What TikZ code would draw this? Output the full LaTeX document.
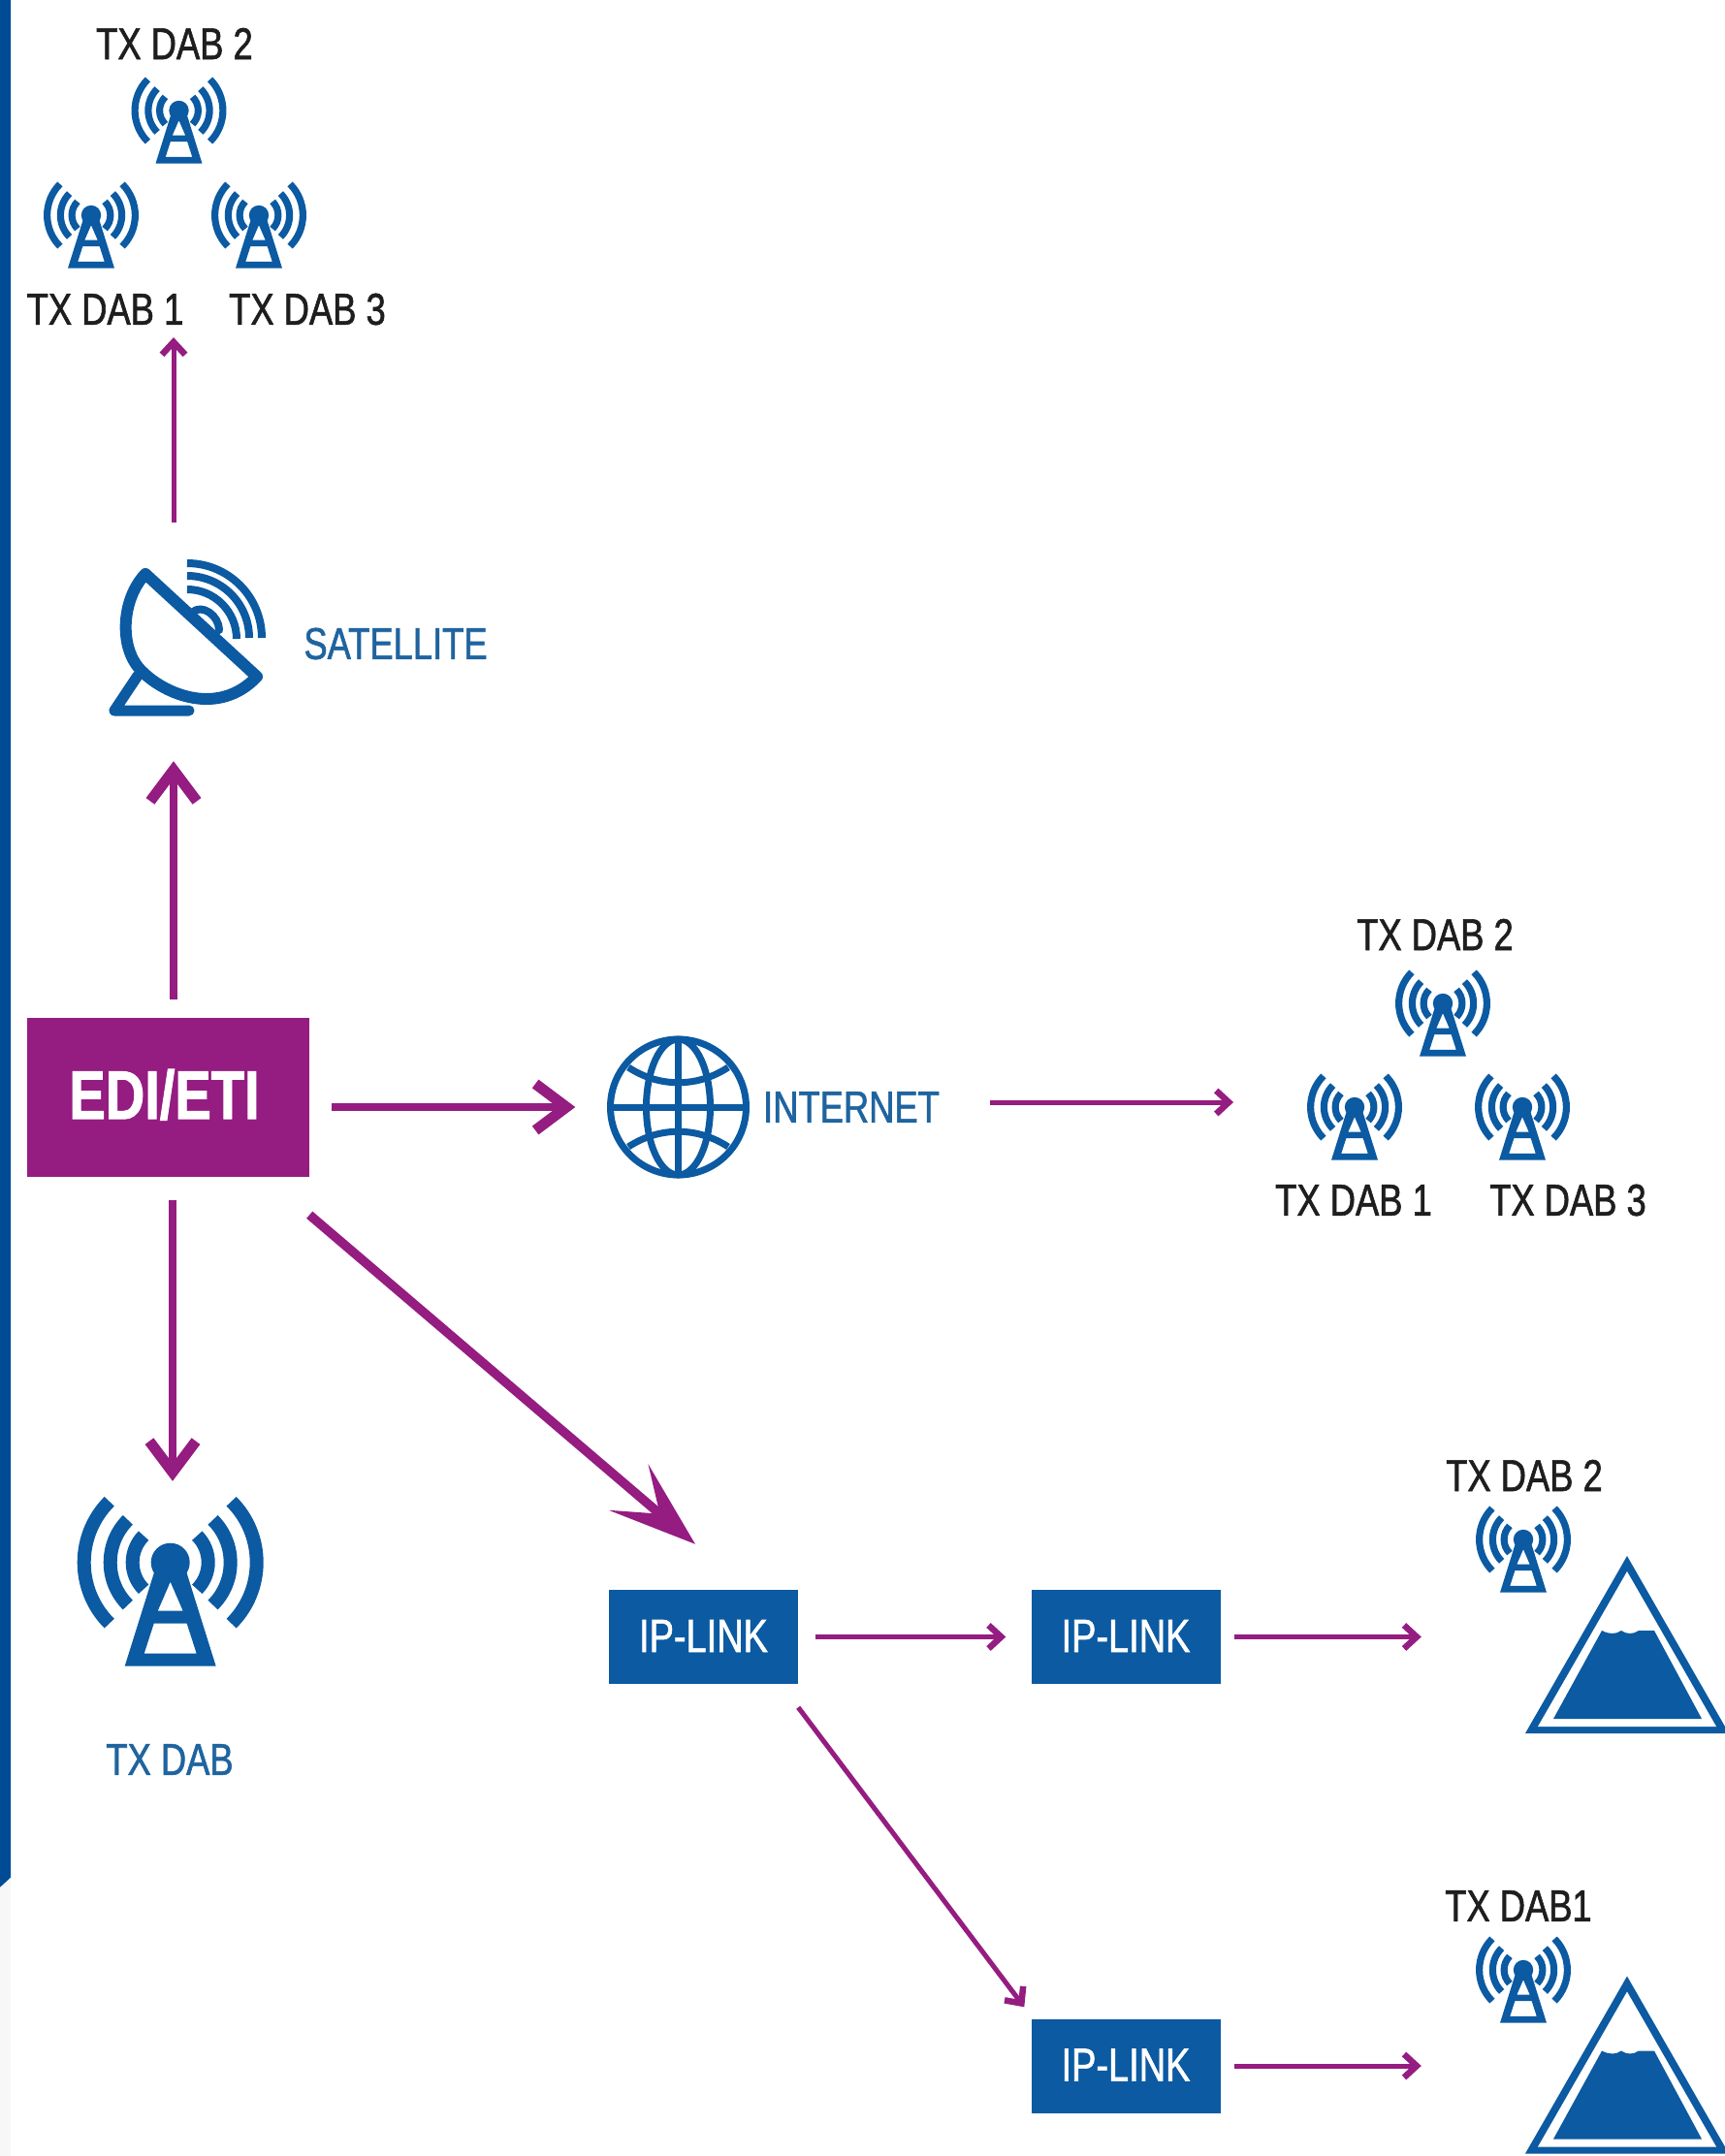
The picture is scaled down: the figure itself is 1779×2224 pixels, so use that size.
\documentclass[tikz,border=0pt]{standalone}
\usepackage{fontspec}
\setmainfont[FakeStretch=0.79,FakeBold=1.3,BoldFeatures={FakeStretch=0.79}]{Liberation Sans}
\usetikzlibrary{arrows.meta}
\definecolor{barblue}{HTML}{004B96}
\definecolor{iconblue}{HTML}{0B5AA2}
\definecolor{textblue}{HTML}{1F649F}
\definecolor{violet}{HTML}{951C81}
\definecolor{inkblack}{HTML}{1E1E1E}
\tikzset{
  lab/.style={inner sep=0pt,text=inkblack,font=\fontsize{46}{50}\selectfont},
  blab/.style={inner sep=0pt,text=textblue,font=\fontsize{46}{50}\selectfont},
  ipbox/.style={fill=iconblue,text=white,inner sep=0pt,minimum width=195pt,minimum height=97pt,font=\fontsize{48}{52}\selectfont},
  ghost/.style={inner sep=0pt,draw=none},
  big/.style={violet,line width=8pt,-{Straight Barb[length=32pt,width=48pt,line width=11pt]}},
  slim/.style={violet,line width=5pt,-{Straight Barb[length=13pt,width=24pt,line width=6.5pt]}},
  swept/.style={violet,line width=9.5pt,-{Stealth[length=90pt,width=62pt,inset=42pt]}},
  ic/.style={draw=iconblue,fill=none},
}
\newcommand{\antennaicon}[3]{%
  \begin{scope}[shift={(#1,#2)},scale=#3]
    \foreach \r in {39,62,89}{
      \draw[ic,line width=#3*14pt]({\r*cos(45)},{\r*sin(45)}) arc[start angle=45,end angle=-45,radius=\r];
      \draw[ic,line width=#3*14pt]({-\r*cos(45)},{\r*sin(45)}) arc[start angle=135,end angle=225,radius=\r];
    }
    \fill[iconblue] (0,0) circle[radius=20];
    \fill[iconblue,even odd rule] (-16,8) -- (16,8) -- (47,107) -- (-47,107) -- cycle
      (0,20) -- (13,50) -- (-13,50) -- cycle
      (-17,63) -- (17,63) -- (27,94) -- (-27,94) -- cycle;
  \end{scope}}
\newcommand{\mountainicon}[1]{%
  \begin{scope}[yshift=-#1pt]
    \fill[iconblue] (1678,1605) -- (1573,1788) -- (1783,1788) -- cycle;
    \fill[white] (1678,1621) -- (1586,1781) -- (1770,1781) -- cycle;
    \fill[iconblue] (1652,1682) .. controls (1660,1686) and (1666,1686) .. (1672,1682)
      .. controls (1678,1686) and (1684,1686) .. (1690,1682) -- (1706,1682) -- (1755,1773) -- (1602,1773) -- cycle;
  \end{scope}}
\begin{document}
\begin{tikzpicture}[x=1pt,y=-1pt]
\useasboundingbox (0,0) rectangle (1779,2224);
\fill[white] (0,0) rectangle (1779,2224);
% left band
\fill[barblue] (0,0) -- (11,0) -- (11,1937) -- (0,1947) -- cycle;
\fill[black!3] (0,1947) -- (11,1937) -- (11,2224) -- (0,2224) -- cycle;

% main nodes
\node[fill=violet,text=white,inner sep=0pt,minimum width=291pt,minimum height=164pt] (edi) at (173.5,1132) {\raisebox{7pt}{\hspace*{-8pt}\bfseries\fontsize{71}{75}\selectfont EDI/ETI}};
\node[ipbox] (ipA) at (725.5,1688.5) {\raisebox{2pt}{IP-LINK}};
\node[ipbox] (ipB) at (1161,1688.5) {\raisebox{2pt}{IP-LINK}};
\node[ipbox] (ipC) at (1161,2131) {\raisebox{2pt}{IP-LINK}};

% top group
\node[lab] (t2) at (180,45) {TX DAB 2};
\node[lab] (t1) at (108.5,319) {TX DAB 1};
\node[lab] (t3) at (317,319) {TX DAB 3};
\antennaicon{184.5}{114}{.51}
\antennaicon{94}{222}{.51}
\antennaicon{267}{222}{.51}

% satellite
\node[ghost,minimum width=194pt,minimum height=170pt] (dish) at (179,660) {};
\node[blab] (satlab) at (408,664) {SATELLITE};
\begin{scope}[iconblue,line join=round]
  \draw[line width=12pt,line cap=round] (150,592) .. controls (125,618) and (122,670) .. (147,693)
     .. controls (170,716) and (225,740) .. (265,698) -- cycle;
  \draw[line width=11pt,line cap=round] (142,697) -- (118,733) -- (195,733);
  \draw[line width=8pt,line cap=round] (198,632) .. controls (208,622) and (226,635) .. (226,650);
  \draw[line width=8pt] (193,608) arc[start angle=-90,end angle=0,radius=51];
  \draw[line width=8pt] (193,594) arc[start angle=-90,end angle=0,radius=64];
  \draw[line width=8pt] (193,581) arc[start angle=-90,end angle=0,radius=77];
\end{scope}

% internet
\node[ghost,minimum size=148pt] (globe) at (699.5,1142) {};
\node[blab] (inet) at (878,1142) {INTERNET};
\begin{scope}[iconblue,line width=7pt]
  \draw (globe.center) circle[radius=70];
  \draw (globe.center) ellipse[x radius=33,y radius=70];
  \draw (699.5,1072) -- (699.5,1212);
  \draw (629.5,1142) -- (769.5,1142);
  \draw (648,1101) .. controls (680,1122) and (719,1122) .. (751,1101);
  \draw (648,1183) .. controls (680,1162) and (719,1162) .. (751,1183);
\end{scope}

% internet group
\node[lab] (m2) at (1480,964) {TX DAB 2};
\node[lab] (m1) at (1396,1238) {TX DAB 1};
\node[lab] (m3) at (1617,1238) {TX DAB 3};
\antennaicon{1488}{1035}{.51}
\antennaicon{1397}{1142}{.51}
\antennaicon{1570}{1142}{.51}

% big antenna
\node[ghost,minimum width=190pt,minimum height=160pt] (big) at (178,1640) {};
\antennaicon{175.7}{1611.7}{1}
\node[blab] (biglab) at (175,1815) {TX DAB};

% sites
\node[lab] (s1) at (1572,1522) {TX DAB 2};
\antennaicon{1571}{1588}{.51}
\node[ghost,minimum width=210pt,minimum height=183pt] (mtnA) at (1678,1696.5) {};
\mountainicon{0}
\node[lab] (s2) at (1566,1966) {TX DAB1};
\antennaicon{1571}{2032}{.51}
\node[ghost,minimum width=210pt,minimum height=183pt] (mtnB) at (1678,2130.5) {};
\mountainicon{433.5}

% connectors
\draw[big,shorten <=19pt,shorten >=40pt] (edi.north -| dish.south) -- (dish.south);
\draw[slim,shorten <=36pt,shorten >=13pt] (dish.north) -- (dish.north |- t1.south);
\draw[big,shorten <=24pt,shorten >=32pt] (edi.south -| big.north) -- (big.north);
\draw[big,shorten <=23pt,shorten >=32pt] (edi.east |- globe.west) -- (globe.west);
\draw[slim,shorten <=52pt,shorten >=43pt] ([yshift=5pt]inet.east) -- ([yshift=5pt]inet.east -| m1.west);
\draw[swept] ([yshift=-39pt]edi.south east) -- ([xshift=-8.5pt,yshift=47pt]ipA.north);
\draw[slim,shorten <=18pt,shorten >=26pt] (ipA.east) -- (ipB.west);
\draw[slim,shorten <=14pt,shorten >=107pt] (ipB.east) -- (ipB.east -| mtnA.west);
\draw[slim] ([yshift=-24pt]ipA.south east) -- ([xshift=-7pt,yshift=12pt]ipC.north west);
\draw[slim,shorten <=14pt,shorten >=107pt] (ipC.east) -- (ipC.east -| mtnB.west);
\end{tikzpicture}
\end{document}
